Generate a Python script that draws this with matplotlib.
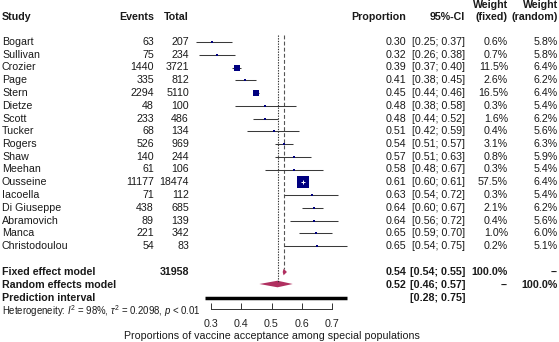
import matplotlib
matplotlib.use("Agg")
import matplotlib.pyplot as plt
import numpy as np

plt.rcParams['font.family'] = ['Liberation Sans', 'DejaVu Sans']
plt.rcParams['mathtext.fontset'] = 'custom'
plt.rcParams['mathtext.rm'] = 'Liberation Sans'
plt.rcParams['mathtext.it'] = 'Liberation Sans:italic'

# ---------------- data ----------------
studies = ["Bogart", "Sullivan", "Crozier", "Page", "Stern", "Dietze", "Scott", "Tucker",
           "Rogers", "Shaw", "Meehan", "Ousseine", "Iacoella", "Di Giuseppe", "Abramovich",
           "Manca", "Christodoulou"]
events = [63, 75, 1440, 335, 2294, 48, 233, 68, 526, 140, 61, 11177, 71, 438, 89, 221, 54]
totals = [207, 234, 3721, 812, 5110, 100, 486, 134, 969, 244, 106, 18474, 112, 685, 139, 342, 83]
prop = [0.30, 0.32, 0.39, 0.41, 0.45, 0.48, 0.48, 0.51, 0.54, 0.57, 0.58, 0.61, 0.63, 0.64, 0.64, 0.65, 0.65]
ci_lo = [0.25, 0.26, 0.37, 0.38, 0.44, 0.38, 0.44, 0.42, 0.51, 0.51, 0.48, 0.60, 0.54, 0.60, 0.56, 0.59, 0.54]
ci_hi = [0.37, 0.38, 0.40, 0.45, 0.46, 0.58, 0.52, 0.59, 0.57, 0.63, 0.67, 0.61, 0.72, 0.67, 0.72, 0.70, 0.75]
w_fixed = [0.6, 0.7, 11.5, 2.6, 16.5, 0.3, 1.6, 0.4, 3.1, 0.8, 0.3, 57.5, 0.3, 2.1, 0.4, 1.0, 0.2]
w_random = [5.8, 5.8, 6.4, 6.2, 6.4, 5.4, 6.2, 5.6, 6.3, 5.9, 5.4, 6.4, 5.4, 6.2, 5.6, 6.0, 5.1]
total_n = 31958
fixed_est, fixed_lo, fixed_hi = 0.54, 0.54, 0.55
random_est, random_lo, random_hi = 0.52, 0.46, 0.57
pred_lo, pred_hi = 0.28, 0.75
xticks = [0.3, 0.4, 0.5, 0.6, 0.7]

# ---------------- layout ----------------
W, H = 559, 342
fig = plt.figure(figsize=(W / 100, H / 100), dpi=100)
fs = 7.7

axt = fig.add_axes([0, 0, 1, 1])
axt.set_xlim(0, W)
axt.set_ylim(H, 0)
axt.axis('off')

ax = fig.add_axes([0, 0, 1, 1])
ax.patch.set_alpha(0)
px_per_unit = (332 - 211) / 0.4
ax.set_xlim(0.3 - 211 / px_per_unit, 0.7 + (W - 332) / px_per_unit)
ax.set_ylim(H, 0)
for s in ['top', 'left', 'right']:
    ax.spines[s].set_visible(False)
ax.spines['bottom'].set_position(('data', 309))
ax.spines['bottom'].set_bounds(0.3, 0.7)
ax.spines['bottom'].set_linewidth(0.7)
ax.spines['bottom'].set_color('#333333')
ax.set_yticks([])
ax.set_xticks(xticks)
ax.set_xticklabels([f"{t:.1f}" for t in xticks])
ax.tick_params(axis='x', direction='in', length=4.5, width=0.7, color='#333333',
               labelsize=fs, pad=7, labelcolor='#222222')

col_x = dict(study=2, events=154, total=189, prop=406, ci=465, wf=508, wr=558)
y0, dy = 42, 12.75
rows_y = [y0 + i * dy for i in range(len(studies))]
y_fixed, y_random, y_pred = 272, 285, 298

tc = '#1a1a1a'
def txt(x, y, s, ha='right', bold=False, size=fs):
    axt.text(x, y, s, ha=ha, va='center', fontsize=size,
             fontweight='bold' if bold else 'normal', color=tc)

# headers
txt(col_x['study'], 17, "Study", ha='left', bold=True)
txt(col_x['events'], 17, "Events", bold=True)
txt(col_x['total'], 17, "Total", bold=True)
txt(col_x['prop'], 17, "Proportion", bold=True)
txt(col_x['ci'], 17, "95%-CI", bold=True)
txt(col_x['wf'], 5, "Weight", bold=True)
txt(col_x['wf'], 17, "(fixed)", bold=True)
txt(col_x['wr'], 5, "Weight", bold=True)
txt(col_x['wr'], 17, "(random)", bold=True)

# study rows
for i, y in enumerate(rows_y):
    txt(col_x['study'], y, studies[i], ha='left')
    txt(col_x['events'], y, str(events[i]))
    txt(col_x['total'], y, str(totals[i]))
    txt(col_x['prop'], y, f"{prop[i]:.2f}")
    txt(col_x['ci'], y, f"[{ci_lo[i]:.2f}; {ci_hi[i]:.2f}]")
    txt(col_x['wf'], y, f"{w_fixed[i]:.1f}%")
    txt(col_x['wr'], y, f"{w_random[i]:.1f}%")

# summary rows
txt(col_x['study'], y_fixed, "Fixed effect model", ha='left', bold=True)
txt(col_x['total'], y_fixed, str(total_n), bold=True)
txt(col_x['prop'], y_fixed, f"{fixed_est:.2f}", bold=True)
txt(col_x['ci'], y_fixed, f"[{fixed_lo:.2f}; {fixed_hi:.2f}]", bold=True)
txt(col_x['wf'], y_fixed, "100.0%", bold=True)
txt(col_x['wr'], y_fixed, "--", bold=True)

txt(col_x['study'], y_random, "Random effects model", ha='left', bold=True)
txt(col_x['prop'], y_random, f"{random_est:.2f}", bold=True)
txt(col_x['ci'], y_random, f"[{random_lo:.2f}; {random_hi:.2f}]", bold=True)
txt(col_x['wf'], y_random, "--", bold=True)
txt(col_x['wr'], y_random, "100.0%", bold=True)

txt(col_x['study'], y_pred, "Prediction interval", ha='left', bold=True)
txt(col_x['ci'], y_pred, f"[{pred_lo:.2f}; {pred_hi:.2f}]", bold=True)

axt.text(2, 311, r"Heterogeneity: $I^2$ = 98%, $\tau^2$ = 0.2098, $p$ < 0.01",
         ha='left', va='center', fontsize=6.9, color=tc)

# reference lines
ax.plot([fixed_est, fixed_est], [35, 269], ls=(0, (3.5, 2)), color='#555555', lw=0.8)
ax.plot([random_est, random_est], [35, 282], ls=(0, (1.2, 1.2)), color='#333333', lw=0.8)

# study CIs and squares
max_side = 11.5  # px for largest weight
for i, y in enumerate(rows_y):
    ax.plot([ci_lo[i], ci_hi[i]], [y, y], color='#3a3a3a', lw=0.75, solid_capstyle='butt', zorder=2)
    side = max(max_side * np.sqrt(w_fixed[i] / max(w_fixed)), 2.0)
    ax.scatter([events[i] / totals[i]], [y], marker='s', s=(side * 0.72) ** 2,
               color='#000080', linewidths=0, zorder=3)
    if side > 8:
        ax.scatter([events[i] / totals[i]], [y], marker='+', s=9, color='white',
                   linewidths=0.7, zorder=4)

# diamonds
dc = '#B03060'
ax.fill([fixed_lo - 0.003, fixed_est, fixed_hi + 0.001, fixed_est],
        [y_fixed, y_fixed - 3.3, y_fixed, y_fixed + 3.3], color=dc, lw=0)
ax.fill([random_lo, random_est, random_hi, random_est],
        [y_random - 1, y_random - 4.3, y_random - 1, y_random + 2.3], color=dc, lw=0)

# prediction interval
ax.plot([pred_lo, pred_hi], [y_pred, y_pred], color='black', lw=2.5, solid_capstyle='butt')

# x label
ax.text(0.5, 336, "Proportions of vaccine acceptance among special populations",
        ha='center', va='center', fontsize=fs, color=tc)

fig.savefig("out.png", dpi=100)
